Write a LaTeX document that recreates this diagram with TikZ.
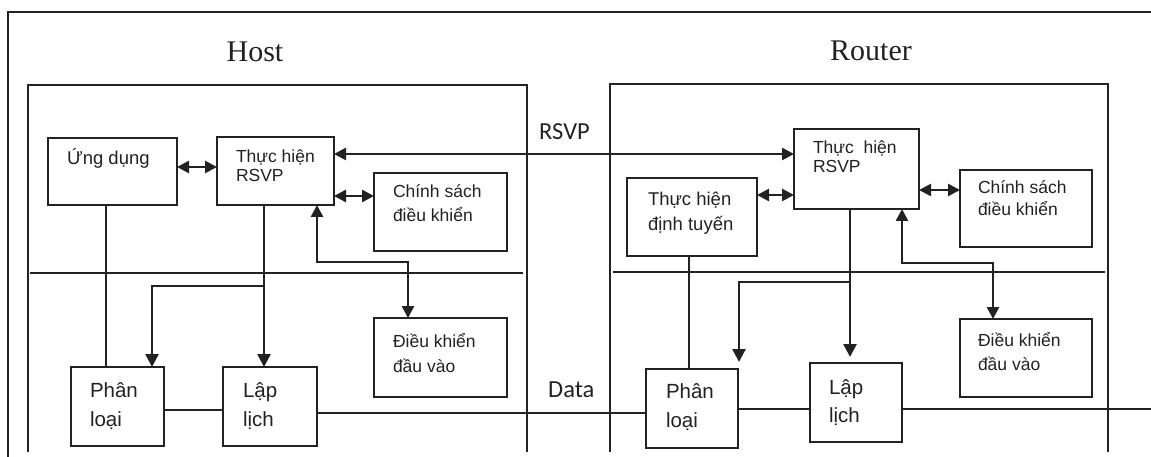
\documentclass[tikz,border=0pt]{standalone}
\usepackage{fontspec}
\setmainfont{Liberation Serif}
\setsansfont{Liberation Sans}
\newfontfamily\labelfont{Carlito}
\usetikzlibrary{arrows.meta,calc}
\definecolor{ink}{HTML}{222222}
\tikzset{
  thin line/.style={line width=1.5pt, draw=ink},
  frameline/.style={line width=1.8pt, draw=ink},
  box/.style={draw=ink, line width=1.8pt, anchor=north west, inner sep=0pt, outer sep=0pt, fill=white},
  txt/.style={anchor=base west, inner sep=0pt, outer sep=0pt, align=left, text=ink},
  arr/.style={line width=2.6pt, draw=ink, -{Triangle[length=13pt,width=13pt]}},
  darr/.style={line width=2.6pt, draw=ink, {Triangle[length=12pt,width=12pt]}-{Triangle[length=12pt,width=12pt]}},
}
\newcommand{\fs}[2]{\fontsize{#1}{#2}\selectfont}
\begin{document}
\begin{tikzpicture}[x=1pt,y=-1pt]
\useasboundingbox (0,0) rectangle (1151,457);
% outer frame (only top and left visible)
\draw[frameline] (8,470) -- (8,12) -- (1160,12);
% host and router containers
\draw[frameline] (28,452) -- (28,85) -- (527,85) -- (527,452);
\draw[frameline] (610,452) -- (610,84) -- (1108,84) -- (1108,452);
% separators
\draw[thin line] (30,273) -- (523,273);
\draw[thin line] (613,272) -- (1105,272);
% titles
\node[anchor=base, inner sep=0pt, font=\rmfamily\fs{30}{36}, text=ink] (hostT) at (255,62) {Host};
\node[anchor=base, inner sep=0pt, font=\rmfamily\fs{30}{36}, text=ink] (routerT) at (871,61) {Router};
\node[anchor=base west, inner sep=0pt, font=\labelfont\fs{24.5}{28}, text=ink] (rsvpT) at (539,140) {RSVP};
\node[anchor=base west, inner sep=0pt, font=\labelfont\fs{24.5}{28}, text=ink] (dataT) at (548,397) {Data};

% ---- host boxes
\node[box, minimum width=129pt, minimum height=67pt] (ung) at (48,138) {};
\node[box, minimum width=117pt, minimum height=68pt] (hrsvp) at (217,137) {};
\node[box, minimum width=133pt, minimum height=78pt] (hpol) at (374,173) {};
\node[box, minimum width=133pt, minimum height=79pt] (hadm) at (374,318) {};
\node[box, minimum width=93pt, minimum height=79pt] (hcls) at (71,367) {};
\node[box, minimum width=94pt, minimum height=79pt] (hsch) at (223,367) {};
% ---- router boxes
\node[box, minimum width=125pt, minimum height=80pt] (rrsvp) at (794,129) {};
\node[box, minimum width=130pt, minimum height=78pt] (rrout) at (627,178) {};
\node[box, minimum width=132pt, minimum height=77pt] (rpol) at (960,170) {};
\node[box, minimum width=132pt, minimum height=78pt] (radm) at (960,319) {};
\node[box, minimum width=92pt, minimum height=79pt] (rcls) at (646,369) {};
\node[box, minimum width=92pt, minimum height=79pt] (rsch) at (810,363) {};

% ---- texts (anchor at the baseline of the last line)
\node[txt, font=\sffamily\fs{18.5}{22}] (ungT) at (67,165) {Ứng dụng};
\node[txt, font=\sffamily\fs{17.5}{19}] (hrsvpT) at (236,182) {Thực hiện\\RSVP};
\node[txt, font=\sffamily\fs{17.5}{24}] (hpolT) at (393,222) {Chính sách\\điều khiển};
\node[txt, font=\sffamily\fs{17.5}{25}] (hadmT) at (393,372) {Điều khiển\\đầu vào};
\node[txt, font=\sffamily\fs{20.5}{29}] (hclsT) at (90,426) {Phân\\loại};
\node[txt, font=\sffamily\fs{20.5}{29}] (hschT) at (243,426) {Lập\\lịch};
\node[txt, font=\sffamily\fs{17.5}{19}] (rrsvpT) at (813,173) {Thực~~hiện\\RSVP};
\node[txt, font=\sffamily\fs{18.5}{25}] (rroutT) at (648,231) {Thực hiện\\định tuyến};
\node[txt, font=\sffamily\fs{17.5}{22}] (rpolT) at (978,216) {Chính sách\\điều khiển};
\node[txt, font=\sffamily\fs{17.5}{24}] (radmT) at (978,370) {Điều khiển\\đầu vào};
\node[txt, font=\sffamily\fs{20.5}{29}] (rclsT) at (666,427) {Phân\\loại};
\node[txt, font=\sffamily\fs{20.5}{28}] (rschT) at (829,422) {Lập\\lịch};

% ---- host connectors
\draw[darr] ([yshift=-29pt]ung.north east) coordinate (a1) -- (a1 -| hrsvp.west);
\draw[darr] ([yshift=-23pt]hpol.north west) coordinate (a2) -- (a2 -| hrsvp.east);
\draw[darr] ([yshift=-17pt]hrsvp.north east) coordinate (a3) -- (a3 -| rrsvp.west);
\draw[arr] ([xshift=47pt]hrsvp.south west) coordinate (q1) -- (q1 |- hsch.north);
\draw[arr] ([yshift=-81pt]q1) -| ([xshift=81pt]hcls.north west);
\draw[darr] ([xshift=100pt]hrsvp.south west) -- ++(0,57) -| ([xshift=34pt]hadm.north west);
\draw[thin line] ([xshift=58pt]ung.south west) coordinate (q2) -- (q2 |- hcls.north);
\draw[thin line] ([yshift=-43pt]hcls.north east) coordinate (a4) -- (a4 -| hsch.west);
\draw[thin line] ([yshift=-46pt]hsch.north east) coordinate (a5) -- (a5 -| rcls.west);

% ---- router connectors
\draw[darr] ([yshift=-17pt]rrout.north east) coordinate (b1) -- (b1 -| rrsvp.west);
\draw[darr] ([yshift=-20pt]rpol.north west) coordinate (b2) -- (b2 -| rrsvp.east);
\draw[arr, shorten >=6pt] ([xshift=56pt]rrsvp.south west) coordinate (r1) -- (r1 |- rsch.north);
\draw[arr, shorten >=7pt] ([yshift=-73pt]r1) -| ([xshift=1pt]rcls.north east);
\draw[darr] ([xshift=108pt]rrsvp.south west) -- ++(0,54) -| ([xshift=33pt]radm.north west);
\draw[thin line] ([xshift=62pt]rrout.south west) coordinate (r2) -- (r2 |- rcls.north);
\draw[thin line] ([yshift=-40pt]rcls.north east) coordinate (b3) -- (b3 -| rsch.west);
\coordinate (dataend) at (1151,409);
\draw[thin line] ([yshift=-46pt]rsch.north east) coordinate (b4) -- (b4 -| dataend);
\end{tikzpicture}
\end{document}
